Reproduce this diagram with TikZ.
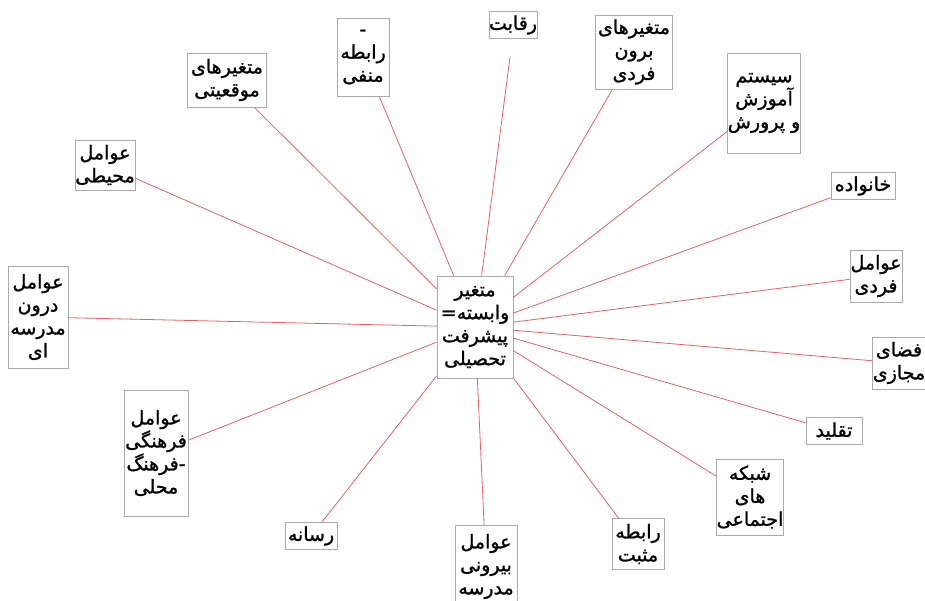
\documentclass[tikz,border=0pt]{standalone}
\usepackage{fontspec}
\newfontfamily\fa[Script=Arabic,FakeBold=1.2]{DejaVu Sans}
\TeXXeTstate=1
\newcommand{\rl}[1]{\beginR #1\endR}
\definecolor{linkred}{RGB}{232,96,96}
\definecolor{boxgray}{RGB}{170,170,170}
\tikzset{
  box/.style={draw=boxgray, line width=0.9pt, align=center, inner sep=0pt,
    font=\fa\fontsize{19}{23}\selectfont},
  link/.style={draw=linkred, line width=0.8pt}
}
\begin{document}
\begin{tikzpicture}[x=1pt,y=-1pt]
  \useasboundingbox (0,0) rectangle (925,600);
  \clip (0,0) rectangle (925,600);
  % center
  \node[box, minimum width=76, minimum height=102] (c) at (475,327)
    {\rl{متغیر}\\\rl{وابسته=}\\\rl{پیشرفت}\\\rl{تحصیلی}};
  % top
  \node[box, minimum width=79, minimum height=54] (mowqeiyat) at (227,80)
    {\rl{متغیرهای}\\\rl{موقعیتی}};
  \node[box, minimum width=52, minimum height=78] (manfi) at (363,57)
    {-\\\rl{رابطه}\\\rl{منفی}};
  \node[box, minimum width=40, minimum height=27] (raqabat) at (513,25)
    {\rl{رقابت}};
  \coordinate (raqabat-end) at (510,57);
  \node[box, minimum width=77, minimum height=74] (boronfardi) at (634,52)
    {\rl{متغیرهای}\\\rl{برون}\\\rl{فردی}};
  \node[box, minimum width=68, minimum height=100] (amoozesh) at (764,103)
    {\rl{سیستم}\\\rl{آموزش}\\\rl{و پرورش}};
  % right
  \node[box, minimum width=64, minimum height=27] (khanevade) at (863,186)
    {\rl{خانواده}};
  \node[box, minimum width=52, minimum height=52] (fardi) at (876,276)
    {\rl{عوامل}\\\rl{فردی}};
  \node[box, minimum width=52, minimum height=52] (majazi) at (899,363)
    {\rl{فضای}\\\rl{مجازی}};
  \node[box, minimum width=56, minimum height=27] (taqlid) at (834,431)
    {\rl{تقلید}};
  \node[box, minimum width=63, minimum height=76] (shabake) at (750,497)
    {\rl{شبکه}\\\rl{های}\\\rl{اجتماعی}};
  % bottom
  \node[box, minimum width=52, minimum height=51] (mosbat) at (638,544)
    {\rl{رابطه}\\\rl{مثبت}};
  \node[box, minimum width=62, minimum height=82, anchor=north] (biruni) at (486,525)
    {\rl{عوامل}\\\rl{بیرونی}\\\rl{مدرسه}};
  \node[box, minimum width=52, minimum height=27] (resane) at (311,536)
    {\rl{رسانه}};
  % left
  \node[box, minimum width=64, minimum height=126] (farhangi) at (156,453)
    {\rl{عوامل}\\\rl{فرهنگی}\\\rl{-فرهنگ}\\\rl{محلی}};
  \node[box, minimum width=60, minimum height=102] (darun) at (38,317)
    {\rl{عوامل}\\\rl{درون}\\\rl{مدرسه}\\\rl{ای}};
  \node[box, minimum width=60, minimum height=50] (mohiti) at (105,165)
    {\rl{عوامل}\\\rl{محیطی}};
  % connectors
  \foreach \n in {mowqeiyat,manfi,raqabat-end,boronfardi,amoozesh,khanevade,
      fardi,majazi,taqlid,shabake,mosbat,biruni,resane,farhangi,darun,mohiti}
    \draw[link] (c) -- (\n);
\end{tikzpicture}
\end{document}
